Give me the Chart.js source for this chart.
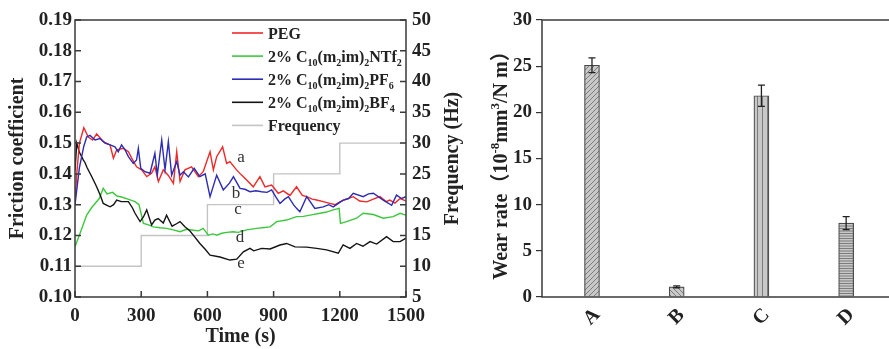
<!DOCTYPE html>
<html lang="en">
<head>
<meta charset="UTF-8" />
<title>Friction coefficient and wear rate</title>
<script src="https://cdn.jsdelivr.net/npm/chart.js"></script>
<style>
  html, body { margin: 0; padding: 0; overflow: hidden; background: #fff; }
  #frictionChart { position: absolute; left: 0; top: 0; }
  #wearChart { position: absolute; left: 480px; top: 0; }
</style>
</head>
<body>
<canvas id="frictionChart" width="480" height="349"></canvas>
<canvas id="wearChart" width="520" height="349"></canvas>
<script>
// friction curves (time in s, friction coefficient)
const pegTime = [0, 8, 20, 40, 60, 80, 98, 128, 159, 174, 189, 219, 242, 257, 279, 302, 325, 347, 362, 378, 400, 423, 446, 461, 476, 498, 528, 559, 581, 612, 627, 642, 669, 687, 702, 732, 755, 778, 808, 838, 861, 891, 921, 944, 974, 1004, 1030, 1050, 1075, 1095, 1125, 1155, 1180, 1200, 1230, 1261, 1290, 1322, 1352, 1382, 1410, 1427, 1450, 1473, 1500];
const pegMu = [0.131, 0.140, 0.150, 0.155, 0.152, 0.151, 0.153, 0.1505, 0.1494, 0.1451, 0.1478, 0.1483, 0.1472, 0.1451, 0.1423, 0.1413, 0.1391, 0.1402, 0.1423, 0.1375, 0.1413, 0.1395, 0.1369, 0.1472, 0.1375, 0.1413, 0.1423, 0.1391, 0.1407, 0.1472, 0.1413, 0.1456, 0.1488, 0.1434, 0.1440, 0.1413, 0.1396, 0.1380, 0.1358, 0.1391, 0.1358, 0.1364, 0.1337, 0.1345, 0.1330, 0.1358, 0.1330, 0.1326, 0.1318, 0.1315, 0.1310, 0.1304, 0.1300, 0.1309, 0.1318, 0.1326, 0.1312, 0.1309, 0.1318, 0.1326, 0.1310, 0.1315, 0.1305, 0.1320, 0.1312];

const ntfTime = [0, 23, 53, 75, 91, 110, 128, 145, 170, 190, 211, 240, 272, 290, 310, 330, 355, 385, 415, 445, 476, 505, 536, 560, 581, 604, 625, 642, 665, 687, 717, 740, 778, 823, 860, 884, 914, 959, 1004, 1035, 1065, 1110, 1140, 1170, 1197, 1203, 1231, 1276, 1306, 1352, 1397, 1442, 1473, 1500];
const ntfMu = [0.1163, 0.1207, 0.1266, 0.1290, 0.1304, 0.1320, 0.1353, 0.1335, 0.1340, 0.1328, 0.1325, 0.1318, 0.1310, 0.1300, 0.1239, 0.1235, 0.1228, 0.1225, 0.1223, 0.1218, 0.1212, 0.1220, 0.1217, 0.1215, 0.1223, 0.1201, 0.1205, 0.1201, 0.1207, 0.1210, 0.1212, 0.1210, 0.1218, 0.1223, 0.1226, 0.1228, 0.1245, 0.1250, 0.1261, 0.1262, 0.1266, 0.1272, 0.1276, 0.1283, 0.1288, 0.1239, 0.1245, 0.1256, 0.1272, 0.1268, 0.1256, 0.1261, 0.1272, 0.1266];

const pfTime = [0, 5, 20, 40, 53, 68, 91, 113, 136, 159, 181, 196, 211, 227, 242, 264, 279, 287, 298, 317, 340, 362, 373, 393, 408, 423, 438, 461, 476, 491, 514, 540, 566, 590, 612, 642, 672, 700, 718, 748, 770, 793, 820, 846, 870, 891, 910, 929, 950, 967, 990, 1004, 1019, 1050, 1087, 1125, 1150, 1170, 1215, 1240, 1261, 1306, 1330, 1352, 1397, 1435, 1457, 1480, 1500];
const pfMu = [0.130, 0.133, 0.142, 0.149, 0.152, 0.1525, 0.151, 0.1515, 0.150, 0.1494, 0.1488, 0.1472, 0.1494, 0.1478, 0.1456, 0.1434, 0.1445, 0.1483, 0.1418, 0.1407, 0.1402, 0.1467, 0.1396, 0.1510, 0.1413, 0.1505, 0.1396, 0.1440, 0.1396, 0.1407, 0.1390, 0.1418, 0.1391, 0.1400, 0.1326, 0.1396, 0.1348, 0.1370, 0.1391, 0.1353, 0.1350, 0.1342, 0.1345, 0.1342, 0.1340, 0.1348, 0.1325, 0.1304, 0.1318, 0.1326, 0.1300, 0.1288, 0.1277, 0.1326, 0.1288, 0.1293, 0.1300, 0.1293, 0.1315, 0.1320, 0.1337, 0.1326, 0.1335, 0.1337, 0.1315, 0.1298, 0.1331, 0.1320, 0.1326];

const bfTime = [0, 8, 20, 38, 45, 55, 68, 80, 98, 115, 128, 145, 159, 175, 189, 210, 242, 260, 272, 295, 310, 325, 347, 362, 377, 400, 415, 440, 460, 476, 498, 520, 536, 566, 590, 612, 657, 702, 733, 763, 793, 810, 846, 884, 929, 959, 997, 1050, 1095, 1140, 1193, 1215, 1246, 1276, 1305, 1337, 1367, 1412, 1442, 1473, 1500];
const bfMu = [0.141, 0.150, 0.147, 0.1445, 0.1437, 0.1420, 0.1402, 0.1385, 0.1358, 0.1330, 0.1304, 0.1298, 0.1293, 0.1300, 0.1315, 0.1310, 0.1310, 0.1290, 0.1272, 0.1245, 0.1260, 0.1283, 0.1234, 0.1250, 0.1255, 0.1240, 0.1266, 0.1230, 0.1238, 0.1245, 0.1228, 0.1215, 0.1201, 0.1174, 0.1155, 0.1136, 0.1130, 0.1120, 0.1123, 0.1147, 0.1158, 0.1150, 0.1158, 0.1156, 0.1169, 0.1174, 0.1163, 0.1162, 0.1158, 0.1153, 0.1142, 0.1169, 0.1158, 0.1174, 0.1165, 0.1180, 0.1172, 0.1196, 0.1180, 0.1180, 0.1191];

// sliding frequency program
const freqTime = [0, 300, 600, 900, 1200, 1500];
const freqHz = [10, 15, 20, 25, 30, 30];

// letters next to the curves
const curveTags = ['a', 'b', 'c', 'd', 'e'];
const tagTime = [752, 730, 739, 748, 752];
const tagMu = [0.1452, 0.1335, 0.1283, 0.1192, 0.1110];

// wear rate bars
const wearCats = ['A', 'B', 'C', 'D'];
const wearRate = [25.1, 1.1, 21.8, 8.0];
const wearErr = [0.8, 0.1, 1.15, 0.7];

const serif = '"Liberation Serif", "Times New Roman", serif';
const tickFont = { family: serif, size: 19, weight: 'bold' };
const titleFont = { family: serif, size: 20, weight: 'bold', lineHeight: 1.2 };
Chart.defaults.color = '#222';

const pts = (xs, ys) => xs.map((t, i) => ({ x: t, y: ys[i] }));

// draws text with unicode sub/superscript digits as real small glyphs
const SUB = '₀₁₂₃₄₅₆₇₈₉', SUP = '⁰¹²³⁴⁵⁶⁷⁸⁹';
function richRuns(text) {
  const out = [];
  for (const ch of text) {
    let kind = 'n', c = ch, k;
    if ((k = SUB.indexOf(ch)) >= 0) { kind = 'sub'; c = String(k); }
    else if ((k = SUP.indexOf(ch)) >= 0) { kind = 'sup'; c = String(k); }
    else if (ch === '⁻') { kind = 'sup'; c = '-'; }
    const last = out[out.length - 1];
    if (last && last.kind === kind) last.text += c; else out.push({ kind, text: c });
  }
  return out;
}
function drawRich(ctx, text, x, y, size, align) {
  const rs = richRuns(text);
  const fontOf = k => 'bold ' + (k === 'n' ? size : Math.round(size * 0.65)) + 'px ' + serif + ', "Noto Sans CJK SC"';
  let w = 0;
  rs.forEach(r => { ctx.font = fontOf(r.kind); r.w = ctx.measureText(r.text).width; w += r.w; });
  let cx = align === 'center' ? x - w / 2 : x;
  ctx.textAlign = 'left';
  ctx.textBaseline = 'alphabetic';
  rs.forEach(r => {
    ctx.font = fontOf(r.kind);
    const dy = r.kind === 'sub' ? size * 0.25 : r.kind === 'sup' ? -size * 0.42 : 0;
    ctx.fillText(r.text, cx, y + dy);
    cx += r.w;
  });
}

const frictionDecor = {
  id: 'frictionDecor',
  afterDraw(chart) {
    const { ctx, chartArea: a, scales: { x, y, y1 } } = chart;
    ctx.save();
    ctx.strokeStyle = '#3a3a3a';
    ctx.lineWidth = 1.5;
    ctx.strokeRect(a.left, a.top, a.width, a.height);
    ctx.beginPath();
    x.ticks.forEach(t => { const p = x.getPixelForValue(t.value); ctx.moveTo(p, a.bottom); ctx.lineTo(p, a.bottom - 6); });
    y.ticks.forEach(t => { const p = y.getPixelForValue(t.value); ctx.moveTo(a.left, p); ctx.lineTo(a.left + 6, p); });
    y1.ticks.forEach(t => { const p = y1.getPixelForValue(t.value); ctx.moveTo(a.right, p); ctx.lineTo(a.right - 6, p); });
    ctx.stroke();

    // legend
    chart.data.datasets.forEach((ds, i) => {
      const ry = 33 + i * 23.1;
      ctx.strokeStyle = ds.borderColor;
      ctx.lineWidth = 1.6;
      ctx.beginPath();
      ctx.moveTo(232, ry);
      ctx.lineTo(263, ry);
      ctx.stroke();
      ctx.fillStyle = '#222';
      drawRich(ctx, ds.label, 268, ry + 5.5, 16, 'left');
    });

    // curve letters
    ctx.fillStyle = '#333';
    ctx.font = '17px ' + serif;
    ctx.textAlign = 'center';
    ctx.textBaseline = 'middle';
    curveTags.forEach((s, i) => ctx.fillText(s, x.getPixelForValue(tagTime[i]), y.getPixelForValue(tagMu[i])));

    // right axis title, reading bottom to top
    ctx.save();
    ctx.translate(453, (a.top + a.bottom) / 2);
    ctx.rotate(-Math.PI / 2);
    ctx.fillStyle = '#222';
    ctx.font = 'bold 20px ' + serif;
    ctx.fillText('Frequency (Hz)', 0, 0);
    ctx.restore();
    ctx.restore();
  }
};

new Chart(document.getElementById('frictionChart'), {
  type: 'line',
  data: {
    datasets: [
      { label: 'PEG', data: pts(pegTime, pegMu), borderColor: '#f02828', order: 1 },
      { label: '2% C₁₀(m₂im)₂NTf₂', data: pts(ntfTime, ntfMu), borderColor: '#3cc83c', order: 3 },
      { label: '2% C₁₀(m₂im)₂PF₆', data: pts(pfTime, pfMu), borderColor: '#2c2cb4', order: 0 },
      { label: '2% C₁₀(m₂im)₂BF₄', data: pts(bfTime, bfMu), borderColor: '#141414', order: 2 },
      { label: 'Frequency', data: pts(freqTime, freqHz), borderColor: '#c4c4c4', yAxisID: 'y1', stepped: true, order: 4 }
    ]
  },
  options: {
    responsive: false,
    animation: false,
    layout: { padding: { top: 20, left: 0, right: 0, bottom: 0 } },
    plugins: { legend: { display: false }, tooltip: { enabled: false } },
    elements: { point: { radius: 0 }, line: { borderWidth: 1.4, tension: 0 } },
    scales: {
      x: {
        type: 'linear', min: 0, max: 1500,
        ticks: { stepSize: 300, padding: 8, font: tickFont, maxRotation: 0, callback: v => String(v) },
        grid: { display: false, drawTicks: false },
        border: { display: false },
        title: { display: true, text: 'Time (s)', font: titleFont, padding: { top: 0, bottom: 0 } },
        afterFit: s => { s.height = 52; }
      },
      y: {
        min: 0.1, max: 0.19,
        ticks: { stepSize: 0.01, padding: 3, font: tickFont, callback: v => v.toFixed(2) },
        grid: { display: false, drawTicks: false },
        border: { display: false },
        title: { display: true, text: 'Friction coefficient', font: titleFont, padding: { top: 6, bottom: 0 } },
        afterFit: s => { s.width = 75; }
      },
      y1: {
        position: 'right', min: 5, max: 50,
        ticks: { stepSize: 5, padding: 6, font: tickFont },
        grid: { display: false, drawTicks: false },
        border: { display: false },
        afterFit: s => { s.width = 74; }
      }
    }
  },
  plugins: [frictionDecor]
});

// hatched fills for the bars
function hatch(ctx, kind) {
  const c = document.createElement('canvas');
  c.width = c.height = 5;
  const g = c.getContext('2d');
  g.fillStyle = '#c8c8c8';
  g.fillRect(0, 0, 5, 5);
  g.strokeStyle = '#7c7c7c';
  g.lineWidth = 1;
  g.beginPath();
  if (kind === 0) { g.moveTo(0, 5); g.lineTo(5, 0); g.moveTo(-2.5, 2.5); g.lineTo(2.5, -2.5); g.moveTo(2.5, 7.5); g.lineTo(7.5, 2.5); }
  else if (kind === 1) { g.moveTo(0, 0); g.lineTo(5, 5); g.moveTo(-2.5, 2.5); g.lineTo(2.5, 7.5); g.moveTo(2.5, -2.5); g.lineTo(7.5, 2.5); }
  else if (kind === 2) { g.moveTo(2.5, 0); g.lineTo(2.5, 5); }
  else { g.moveTo(0, 1); g.lineTo(5, 1); g.moveTo(0, 3.5); g.lineTo(5, 3.5); }
  g.stroke();
  return ctx.createPattern(c, 'repeat');
}

const wearDecor = {
  id: 'wearDecor',
  afterDraw(chart) {
    const { ctx, chartArea: a, scales: { x, y } } = chart;
    ctx.save();
    ctx.strokeStyle = '#3a3a3a';
    ctx.lineWidth = 1.5;
    ctx.strokeRect(a.left, a.top, a.width, a.height);

    // error bars
    ctx.strokeStyle = '#222';
    ctx.lineWidth = 1.3;
    ctx.beginPath();
    wearRate.forEach((v, i) => {
      const px = x.getPixelForValue(i + 1);
      const top = y.getPixelForValue(v + wearErr[i]);
      const bot = y.getPixelForValue(v - wearErr[i]);
      ctx.moveTo(px, top); ctx.lineTo(px, bot);
      ctx.moveTo(px - 3.5, top); ctx.lineTo(px + 3.5, top);
      ctx.moveTo(px - 3.5, bot); ctx.lineTo(px + 3.5, bot);
    });
    ctx.stroke();

    // rotated category letters
    ctx.fillStyle = '#222';
    ctx.font = 'bold 20px ' + serif;
    ctx.textAlign = 'center';
    ctx.textBaseline = 'middle';
    wearCats.forEach((c, i) => {
      ctx.save();
      ctx.translate(x.getPixelForValue(i + 1), a.bottom + 20);
      ctx.rotate(-Math.PI / 4);
      ctx.fillText(c, 0, 0);
      ctx.restore();
    });

    // y title with superscripts
    ctx.translate(20, (a.top + a.bottom) / 2 + 2);
    ctx.rotate(-Math.PI / 2);
    drawRich(ctx, 'Wear rate（10⁻⁸mm³/N m）', 0, 7, 20, 'center');
    ctx.restore();
  }
};

const wearCanvas = document.getElementById('wearChart');
const wctx = wearCanvas.getContext('2d');
new Chart(wearCanvas, {
  type: 'bar',
  data: {
    datasets: [{
      label: 'Wear rate',
      data: wearRate.map((v, i) => ({ x: i + 1, y: v })),
      backgroundColor: wearCats.map((c, i) => hatch(wctx, i)),
      borderColor: '#4a4a4a',
      borderWidth: 1.2,
      barThickness: 15
    }]
  },
  options: {
    responsive: false,
    animation: false,
    layout: { padding: { top: 20, right: 20, left: 0, bottom: 0 } },
    plugins: { legend: { display: false }, tooltip: { enabled: false } },
    scales: {
      x: {
        type: 'linear', min: 0.41, max: 5.58, offset: false,
        ticks: { display: false },
        grid: { display: false },
        border: { display: false },
        afterFit: s => { s.height = 52; }
      },
      y: {
        min: 0, max: 30,
        ticks: { stepSize: 5, padding: 4, font: tickFont },
        grid: { drawOnChartArea: false, drawTicks: true, tickLength: 6, color: '#333', lineWidth: 1.2 },
        border: { display: false },
        afterFit: s => { s.width = 62; }
      }
    }
  },
  plugins: [wearDecor]
});
</script>
</body>
</html>
